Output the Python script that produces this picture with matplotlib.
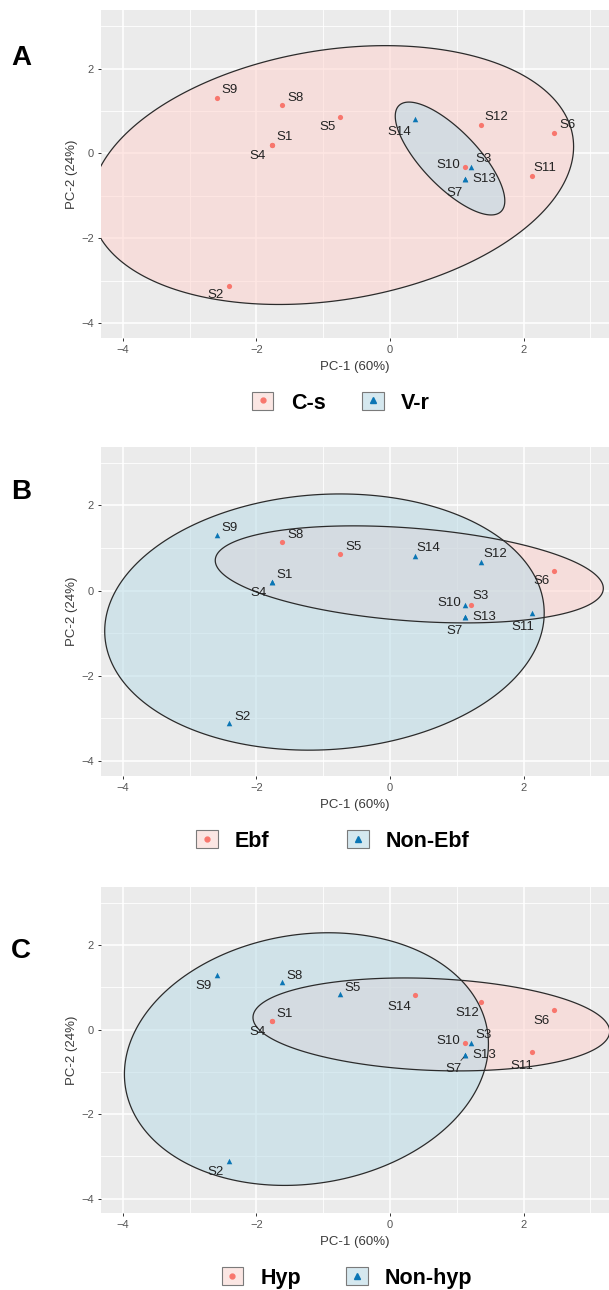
import numpy as np
import matplotlib
matplotlib.use("Agg")
import matplotlib.pyplot as plt
from matplotlib.patches import Patch, Polygon
from matplotlib.lines import Line2D

plt.rcParams["font.family"] = ["Liberation Sans", "DejaVu Sans"]

# ---- data ----
samples = ["S1", "S2", "S3", "S4", "S5", "S6", "S7", "S8", "S9", "S10", "S11", "S12", "S13", "S14"]
pc1 = [-1.77, -2.41, 1.21, -1.77, -0.74, 2.46, 1.13, -1.61, -2.59, 1.13, 2.12, 1.37, 1.13, 0.37]
pc2 = [0.21, -3.12, -0.33, 0.21, 0.85, 0.47, -0.61, 1.13, 1.30, -0.33, -0.53, 0.66, -0.61, 0.81]

# group per sample (0 = first level, 1 = second level)
group_a = [0, 0, 1, 0, 0, 0, 1, 0, 0, 0, 0, 0, 1, 1]
group_b = [1, 1, 0, 1, 0, 0, 1, 0, 1, 1, 1, 1, 1, 1]
group_c = [0, 1, 1, 0, 1, 0, 1, 1, 1, 0, 0, 0, 1, 0]

levels_a = ["C-s", "V-r"]
levels_b = ["Ebf", "Non-Ebf"]
levels_c = ["Hyp", "Non-hyp"]

# 95% ellipses: centre x, centre y, half-extent x, half-extent y, correlation
ellipses_a = [(-0.865, -0.51, 3.615, 3.05, 0.22), (0.9, -0.12, 0.82, 1.33, -0.75)]
ellipses_b = [(0.29, 0.38, 2.905, 1.14, -0.287), (-0.98, -0.74, 3.29, 3.01, 0.071)]
ellipses_c = [(0.62, 0.12, 2.67, 1.10, -0.15), (-1.25, -0.70, 2.725, 2.99, 0.12)]

# ---- layout / styling ----
W, H = 609, 1290
RED, BLUE = "#F8766D", "#0b76b5"
FILLS = [("#FFD3CE", 0.55), ("#BADBE6", 0.55)]
KEY_FILLS = ["#FBE6E3", "#D5E8EF"]

# label offsets in pixels (dx, dy up, ha)
lab_a = {"S9": (5, 8, "left"), "S8": (5, 7, "left"), "S5": (-5, -10, "right"),
         "S1": (5, 8, "left"), "S4": (-6, -11, "right"), "S14": (-3, -13, "right"),
         "S12": (3, 8, "left"), "S6": (5, 8, "left"), "S10": (-5, 2, "right"),
         "S3": (5, 8, "left"), "S13": (7, 0, "left"), "S7": (-3, -14, "right"),
         "S11": (2, 8, "left"), "S2": (-5, -9, "right")}
lab_b = {"S9": (5, 7, "left"), "S8": (5, 7, "left"), "S5": (5, 7, "left"),
         "S14": (2, 8, "left"), "S12": (2, 8, "left"), "S6": (-5, -10, "right"),
         "S1": (5, 7, "left"), "S4": (-5, -11, "right"), "S10": (-4, 2, "right"),
         "S3": (2, 9, "left"), "S13": (7, 0, "left"), "S7": (-3, -14, "right"),
         "S11": (3, -14, "right"), "S2": (5, 6, "left")}
lab_c = {"S9": (-5, -11, "right"), "S8": (4, 6, "left"), "S5": (4, 6, "left"),
         "S14": (-3, -12, "right"), "S12": (-2, -11, "right"), "S6": (-5, -11, "right"),
         "S1": (5, 7, "left"), "S4": (-6, -11, "right"), "S10": (-5, 2, "right"),
         "S3": (5, 8, "left"), "S13": (7, 0, "left"), "S7": (-4, -14, "right"),
         "S11": (2, -14, "right"), "S2": (-5, -11, "right")}

panels = [
    dict(letter="A", groups=group_a, levels=levels_a, ell=ellipses_a, labs=lab_a,
         top=10, bottom=338, letter_y=65, leg=(341, 403), colsp=1.72),
    dict(letter="B", groups=group_b, levels=levels_b, ell=ellipses_b, labs=lab_b,
         top=446.7, bottom=775.7, letter_y=499, leg=(333, 841), colsp=3.6),
    dict(letter="C", groups=group_c, levels=levels_c, ell=ellipses_c, labs=lab_c,
         top=886.7, bottom=1213.3, letter_y=958, leg=(347, 1278), colsp=2.1),
]

LEFT, RIGHT = 100.7, 609
XLIM = (-4.33, 3.28)
YLIM = (-4.35, 3.38)

fig = plt.figure(figsize=(W / 100, H / 100), dpi=100)


def ellipse_xy(cx, cy, sx, sy, rho, n=240):
    cov = np.array([[sx * sx, rho * sx * sy], [rho * sx * sy, sy * sy]])
    L = np.linalg.cholesky(cov)
    t = np.linspace(0, 2 * np.pi, n, endpoint=False)
    pts = L @ np.vstack([np.cos(t), np.sin(t)])
    return np.column_stack([cx + pts[0], cy + pts[1]])


x = np.array(pc1)
y = np.array(pc2)

for p in panels:
    ax = fig.add_axes([LEFT / W, 1 - p["bottom"] / H, (RIGHT - LEFT) / W, (p["bottom"] - p["top"]) / H])
    ax.set_facecolor("#EBEBEB")
    for s in ax.spines.values():
        s.set_visible(False)
    ax.set_xlim(*XLIM)
    ax.set_ylim(*YLIM)
    ax.set_xticks([-4, -2, 0, 2])
    ax.set_yticks([-4, -2, 0, 2])
    ax.set_xticks([-3, -1, 1, 3], minor=True)
    ax.set_yticks([-3, -1, 1, 3], minor=True)
    ax.set_axisbelow(True)
    ax.grid(which="major", color="white", lw=1.1)
    ax.grid(which="minor", color="white", lw=0.6)
    ax.tick_params(which="major", length=2.5, width=0.7, color="#333333",
                   labelsize=8, labelcolor="#555555", pad=2.5)
    ax.tick_params(which="minor", length=0)

    g = np.array(p["groups"])
    for k in range(2):
        xy = ellipse_xy(*p["ell"][k])
        fc, a = FILLS[k]
        ax.add_patch(Polygon(xy, closed=True, facecolor=fc, alpha=a, lw=0, zorder=2))
        ax.add_patch(Polygon(xy, closed=True, fill=False, edgecolor="#2b2b2b", lw=0.9,
                             joinstyle="round", zorder=2.5))

    ax.scatter(x[g == 0], y[g == 0], s=14, marker="o", color=RED, lw=0, zorder=3)
    ax.scatter(x[g == 1], y[g == 1], s=16, marker="^", color=BLUE, lw=0, zorder=3)

    for i, name in enumerate(samples):
        dx, dy, ha = p["labs"][name]
        arrow = None
        if p["letter"] == "C" and name == "S7":
            arrow = dict(arrowstyle="-", color="#333333", lw=0.6, shrinkA=0, shrinkB=2)
        ax.annotate(name, (x[i], y[i]), xytext=(dx * 0.72, dy * 0.72), textcoords="offset points",
                    ha=ha, va="center", fontsize=9.5, color="#222222", zorder=4,
                    arrowprops=arrow)

    ax.set_xlabel("PC-1 (60%)", fontsize=9.5, color="#3a3a3a")
    ax.set_ylabel("PC-2 (24%)", fontsize=9.5, color="#3a3a3a")
    ax.xaxis.label.set_va("center")
    ax.yaxis.label.set_va("center")
    ph = p["bottom"] - p["top"]
    ax.xaxis.set_label_coords(0.5, -(29 / ph))
    ax.yaxis.set_label_coords((72 - LEFT) / (RIGHT - LEFT), 0.5)

    fig.text(11 / W, 1 - p["letter_y"] / H, p["letter"], fontsize=20, fontweight="bold",
             ha="left", va="baseline")

    handles = [
        (Patch(facecolor=KEY_FILLS[0], edgecolor="#7a7a7a", lw=0.8),
         Line2D([], [], ls="none", marker="o", color=RED, ms=3.5)),
        (Patch(facecolor=KEY_FILLS[1], edgecolor="#7a7a7a", lw=0.8),
         Line2D([], [], ls="none", marker="^", color=BLUE, ms=4)),
    ]
    lx, ly = p["leg"]
    fig.legend(handles, p["levels"], loc="center", bbox_to_anchor=(lx / W, 1 - ly / H), ncol=2,
               frameon=False, prop=dict(weight="bold", size=15.5), handlelength=1.0,
               handleheight=0.9, handletextpad=0.8, columnspacing=p["colsp"], borderpad=0)

fig.savefig("out.png", dpi=100)
